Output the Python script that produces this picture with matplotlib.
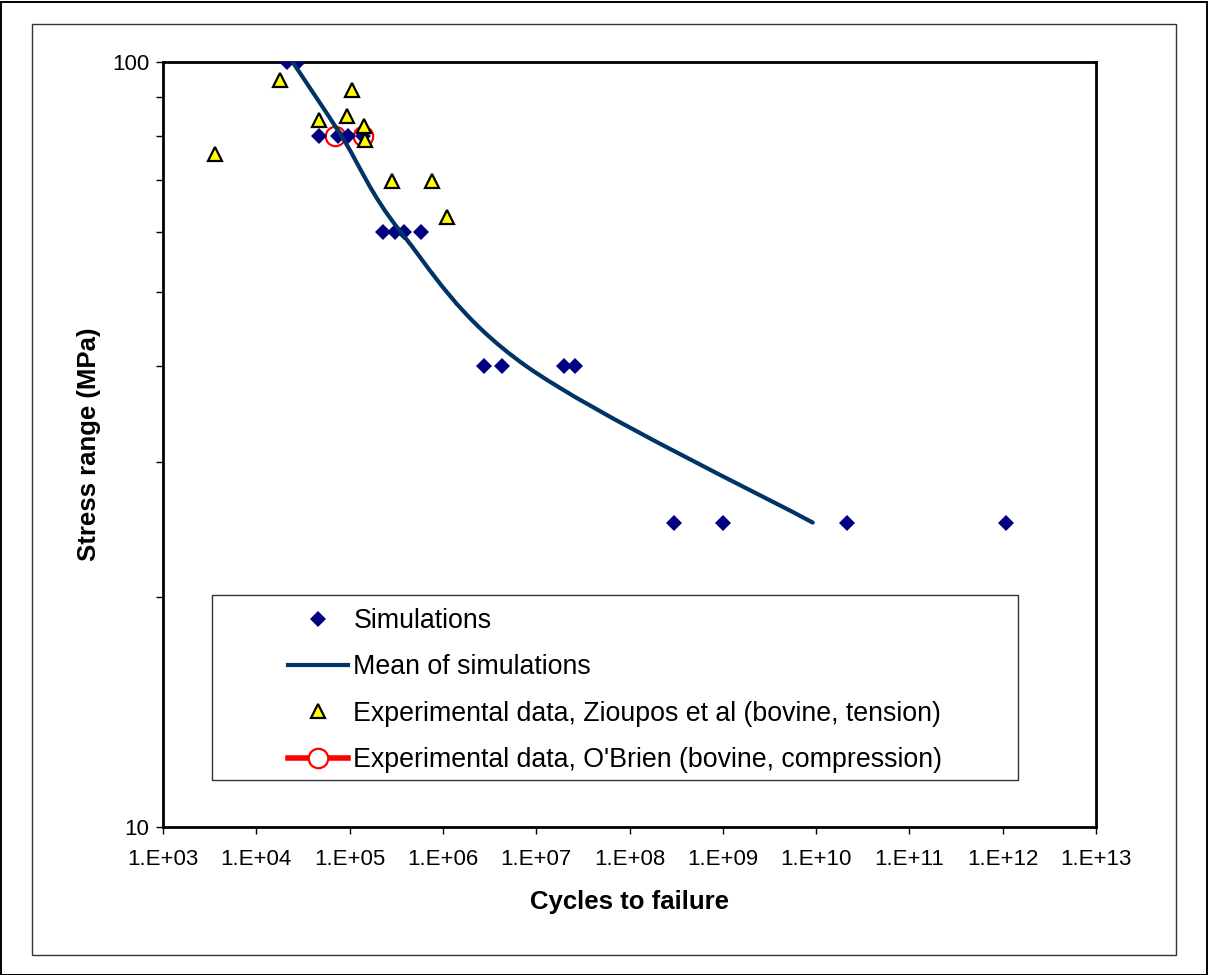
import matplotlib.pyplot as plt
import matplotlib.patches as patches
from matplotlib.path import Path
from matplotlib.ticker import FixedLocator, FuncFormatter, NullFormatter
import numpy as np

plt.rcParams.update({'font.family': ['Liberation Sans', 'DejaVu Sans']})

# ---- data ----
sim_cycles = [2.15e4, 2.8e4, 4.7e4, 7.6e4, 9.6e4, 1.39e5, 2.3e5, 3.1e5, 3.8e5, 5.8e5,
              2.75e6, 4.3e6, 2.0e7, 2.6e7, 3.0e8, 1.0e9, 2.15e10, 1.08e12]
sim_stress = [100, 100, 80, 80, 80, 80, 60, 60, 60, 60,
              40, 40, 40, 40, 25, 25, 25, 25]

# mean curve (Excel "smoothed line" through these points)
mean_cycles = [2.45e4, 8.2e4, 3.52e5, 7.9e6, 9.2e9]
mean_stress = [100, 80, 60, 40, 25]

zio_cycles = [3.58e3, 1.78e4, 4.70e4, 9.31e4, 1.06e5, 1.41e5, 1.46e5,
              2.85e5, 7.64e5, 1.12e6]
zio_stress = [75.9, 94.6, 83.9, 84.9, 91.8, 82.5, 79.1, 69.8, 69.8, 62.8]

obrien_cycles = [7.05e4, 1.39e5]
obrien_stress = [80, 80]

x_ticks = [10.0 ** k for k in range(3, 14)]

NAVY = '#000080'
MEAN_BLUE = '#003366'
RED = '#ff0000'


def smooth_path(xs, ys):
    # Excel-style Bezier smoothing, built in log space (both axes are log)
    lx, ly = np.log10(xs), np.log10(ys)
    pts = np.column_stack([lx, ly])
    n = len(pts)
    verts = [pts[0]]
    codes = [Path.MOVETO]
    for i in range(n - 1):
        p0 = pts[i - 1] if i > 0 else pts[i]
        p1, p2 = pts[i], pts[i + 1]
        p3 = pts[i + 2] if i + 2 < n else pts[i + 1]
        c1 = p1 + (p2 - p0) / 6
        c2 = p2 - (p3 - p1) / 6
        verts += [c1, c2, p2]
        codes += [Path.CURVE4] * 3
    verts = 10 ** np.array(verts)
    return Path(verts, codes)


# ---- figure ----
W, H = 1208, 975
fig = plt.figure(figsize=(W / 100, H / 100), dpi=100)

fig.patches.append(patches.Rectangle((32 / W, 1 - 955 / H), 1144 / W, 931 / H,
                                     transform=fig.transFigure, fill=False,
                                     edgecolor='#333333', linewidth=1.0))
fig.patches.append(patches.Rectangle((0.5 / W, 0.5 / H), (W - 2) / W, (H - 2) / H,
                                     transform=fig.transFigure, fill=False,
                                     edgecolor='black', linewidth=1.4))

ax = fig.add_axes([163 / W, 1 - 827 / H, (1096 - 163) / W, (827 - 62) / H])

ax.plot(obrien_cycles, obrien_stress, color=RED, linewidth=3, zorder=2)
ax.plot(obrien_cycles, obrien_stress, linestyle='none', marker='o', markersize=14,
        markerfacecolor='white', markeredgecolor=RED, markeredgewidth=1.6, zorder=2.5)
ax.plot(sim_cycles, sim_stress, linestyle='none', marker='D', markersize=7.7,
        color=NAVY, markeredgewidth=0, zorder=3)
ax.add_patch(patches.PathPatch(smooth_path(mean_cycles, mean_stress), fill=False,
                               edgecolor=MEAN_BLUE, linewidth=3, capstyle='round',
                               zorder=3.5))
ax.plot(zio_cycles, zio_stress, linestyle='none', marker='^', markersize=9.5,
        markerfacecolor='#ffff00', markeredgecolor='black', markeredgewidth=1.6, zorder=4)

ax.set_xscale('log')
ax.set_yscale('log')
ax.set_xlim(1e3, 1e13)
ax.set_ylim(10, 100)

ax.xaxis.set_major_locator(FixedLocator(x_ticks))
ax.xaxis.set_minor_locator(FixedLocator([]))
ax.xaxis.set_major_formatter(FuncFormatter(lambda v, p: f"1.E+{int(round(np.log10(v))):02d}"))
ax.yaxis.set_major_locator(FixedLocator([10, 100]))
ax.yaxis.set_minor_locator(FixedLocator([20, 30, 40, 50, 60, 70, 80, 90]))
ax.yaxis.set_major_formatter(FuncFormatter(lambda v, p: f"{int(v)}"))
ax.yaxis.set_minor_formatter(NullFormatter())

ax.tick_params(axis='both', which='both', direction='out', length=5, width=1,
               labelsize=16, colors='black')
ax.tick_params(axis='x', pad=11)
ax.tick_params(axis='y', pad=5)
for s in ax.spines.values():
    s.set_linewidth(2)

ax.set_xlabel('Cycles to failure', fontsize=18.5, fontweight='bold', labelpad=14)
ax.set_ylabel('Stress range (MPa)', fontsize=18.5, fontweight='bold', labelpad=8)

# legend box (Excel-style, content centered)
fig.patches.append(patches.Rectangle((212 / W, 1 - 780 / H), 806 / W, 185 / H,
                                     transform=fig.transFigure, facecolor='white',
                                     edgecolor='#333333', linewidth=1.0, zorder=5))
handles = [
    plt.Line2D([], [], linestyle='none', marker='D', markersize=7.7, color=NAVY,
               markeredgewidth=0),
    plt.Line2D([], [], color=MEAN_BLUE, linewidth=3),
    plt.Line2D([], [], linestyle='none', marker='^', markersize=9.5,
               markerfacecolor='#ffff00', markeredgecolor='black', markeredgewidth=1.6),
    plt.Line2D([], [], color=RED, linewidth=4, marker='o', markersize=14,
               markerfacecolor='white', markeredgecolor=RED, markeredgewidth=1.6),
]
labels = ['Simulations', 'Mean of simulations',
          'Experimental data, Zioupos et al (bovine, tension)',
          "Experimental data, O'Brien (bovine, compression)"]
leg = fig.legend(handles, labels, loc='center',
                 bbox_to_anchor=((212 + 1018) / 2 / W, 1 - (595 + 780) / 2 / H - 3 / H),
                 frameon=False, fontsize=19.3, numpoints=1, handlelength=2.24,
                 handletextpad=0.22, labelspacing=0.76)
leg.set_zorder(6)

fig.savefig('out.png', dpi=100)
